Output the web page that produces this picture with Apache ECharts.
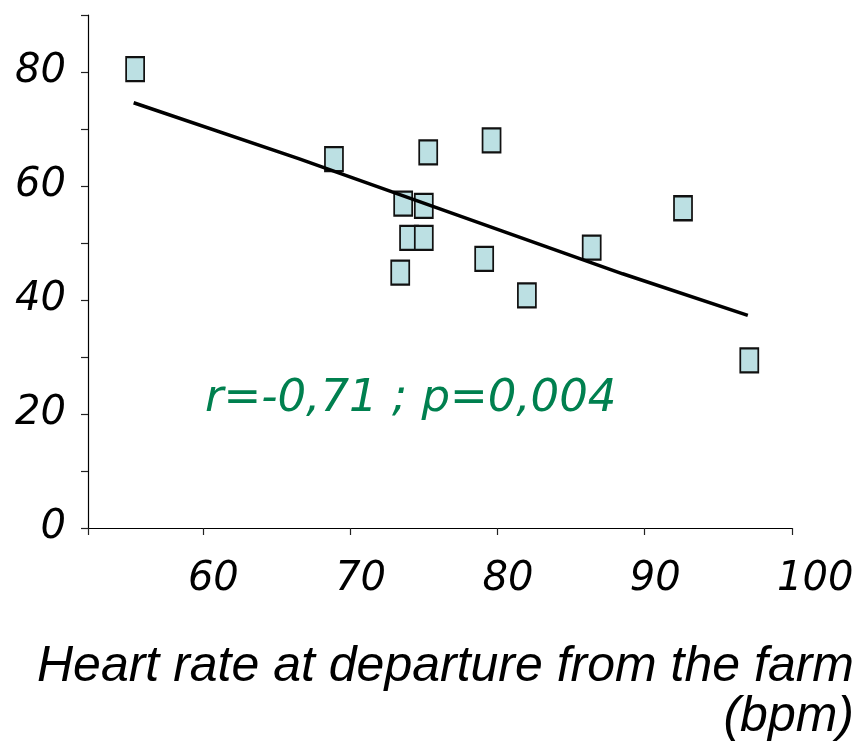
<!DOCTYPE html>
<html><head><meta charset="utf-8">
<script src="https://cdn.jsdelivr.net/npm/echarts@6/dist/echarts.min.js"></script>
<style>html,body{margin:0;padding:0;background:#fff}#c{width:858px;height:742px}</style>
</head><body><div id="c"></div>
<script>
// Data
const heartRate = [55.4, 68.9, 75.3, 79.6, 73.6, 75.0, 74.0, 75.0, 73.4, 79.1, 82.0, 86.4, 92.6, 97.1];
const outcome   = [80.5, 64.7, 65.9, 68.0, 56.9, 56.5, 50.9, 50.9, 44.8, 47.2, 40.8, 49.2, 56.1, 29.4];
const trendX = [55.3, 66.5, 88.5, 97.0];
const trendY = [74.6, 64.8, 44.6, 37.3];
const xTickValues = [52.2, 60, 70, 80, 90, 100];
const xLabelValues = [60, 70, 80, 90, 100];
const yLabelValues = [0, 20, 40, 60, 80];
const annotation = 'r=-0,71 ; p=0,004';
const xTitleLines = ['Heart rate at departure from the farm', '(bpm)'];

const chart = echarts.init(document.getElementById('c'), null, {renderer: 'canvas'});
const tickFont = {fontFamily: 'DejaVu Sans', fontStyle: 'italic', fontSize: 40, color: '#000'};
const titleStyle = {fontFamily: 'Liberation Sans', fontStyle: 'italic', fontSize: 50, fill: '#000'};
chart.setOption({
  animation: false,
  backgroundColor: '#fff',
  grid: {left: 88, top: 15, width: 704, height: 513, containLabel: false, outerBoundsMode: 'none'},
  xAxis: {
    type: 'value', min: 52.2, max: 100,
    splitLine: {show: false},
    axisLine: {show: true, lineStyle: {color: '#000', width: 1.2}},
    axisTick: {show: true, inside: false, length: 7, customValues: xTickValues, lineStyle: {color: '#222', width: 1.2}},
    axisLabel: Object.assign({customValues: xLabelValues, margin: 32, align: 'left', padding: [0, 0, 0, -15]}, tickFont)
  },
  yAxis: {
    type: 'value', min: 0, max: 90, interval: 10,
    splitLine: {show: false},
    axisLine: {show: true, lineStyle: {color: '#000', width: 1.2}},
    axisTick: {show: true, inside: false, length: 7, lineStyle: {color: '#222', width: 1.2}},
    axisLabel: Object.assign({customValues: yLabelValues, margin: 22}, tickFont)
  },
  graphic: [{
    type: 'text', left: 205, top: 377, z: 10,
    style: {text: annotation, fontFamily: 'DejaVu Sans', fontStyle: 'italic', fontSize: 45, fill: '#00804F'}
  }].concat(xTitleLines.map((t, i) => ({
    type: 'text', right: 4, top: 642 + i * 50, z: 10,
    style: Object.assign({text: t}, titleStyle)
  }))),
  series: [{
    type: 'scatter', z: 2,
    data: heartRate.map((x, i) => [x, outcome[i]]),
    symbol: 'rect', symbolSize: [18, 24],
    itemStyle: {color: '#BCE0E3', borderColor: '#111', borderWidth: 2, opacity: 1}
  }, {
    type: 'line', z: 3,
    data: trendX.map((x, i) => [x, trendY[i]]),
    showSymbol: false, symbol: 'none',
    lineStyle: {color: '#000', width: 3.5}
  }]
});
</script></body></html>
